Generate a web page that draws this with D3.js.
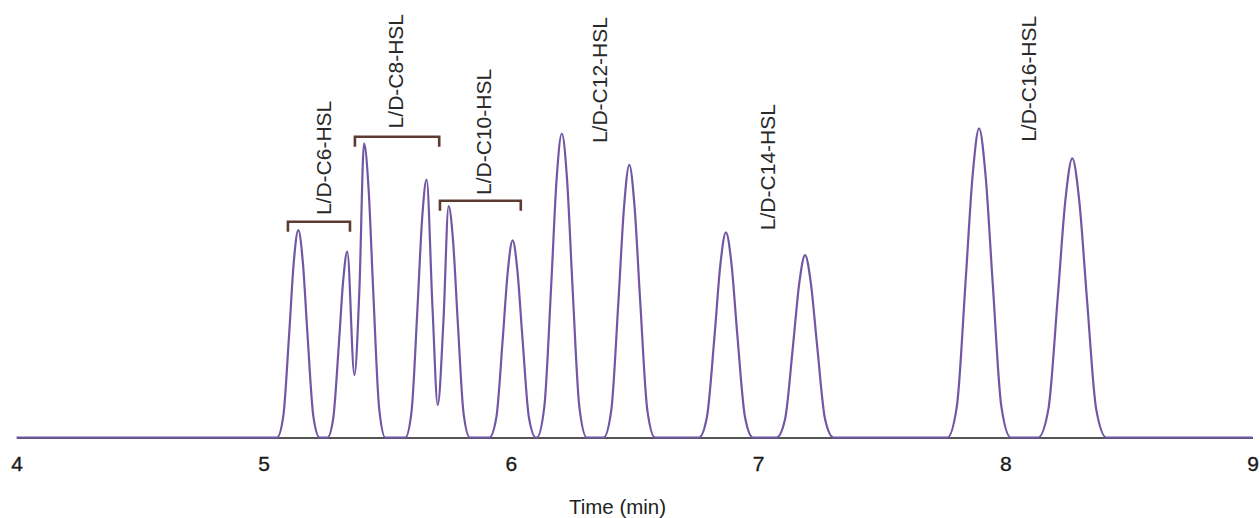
<!DOCTYPE html>
<html>
<head>
<meta charset="utf-8">
<script src="https://cdn.jsdelivr.net/npm/d3@7/dist/d3.min.js"></script>
<style>
  html, body { margin: 0; padding: 0; background: #fff; }
  svg { display: block; }
  text { font-family: "Liberation Sans", Arial, Helvetica, sans-serif; }
</style>
</head>
<body>
<svg id="chart" width="1260" height="518"></svg>
<script>
// Chromatogram trace: [retention time (min), relative signal]
const trace = [
  [4.000, 0], [5.000, 0],
  // L/D-C6-HSL
  [5.054, 0], [5.079, 6.5], [5.103, 32.4], [5.122, 55.1], [5.140, 64.8], [5.158, 55.1], [5.177, 32.4], [5.201, 6.5], [5.226, 0],
  [5.258, 0], [5.281, 5.8], [5.304, 29.1], [5.322, 49.4], [5.338, 58.1], [5.367, 19.5],
  // L/D-C8-HSL
  [5.387, 45.9], [5.406, 91.9], [5.424, 78.1], [5.443, 45.9], [5.467, 9.2], [5.492, 0],
  [5.573, 0], [5.598, 8.1], [5.622, 40.3], [5.641, 68.5], [5.659, 80.6], [5.683, 40.3], [5.704, 10.2],
  // L/D-C10-HSL
  [5.727, 36.2], [5.748, 72.3], [5.766, 61.5], [5.785, 36.2], [5.809, 7.2], [5.834, 0],
  [5.913, 0], [5.941, 6.2], [5.967, 30.8], [5.988, 52.4], [6.007, 61.6], [6.026, 52.4], [6.047, 30.8], [6.073, 6.2], [6.101, 0],
  // L/D-C12-HSL
  [6.105, 0], [6.135, 9.5], [6.163, 47.5], [6.185, 80.8], [6.206, 95.0], [6.227, 80.8], [6.249, 47.5], [6.277, 9.5], [6.307, 0],
  [6.375, 0], [6.406, 8.5], [6.435, 42.6], [6.458, 72.4], [6.479, 85.2], [6.500, 72.4], [6.523, 42.6], [6.552, 8.5], [6.583, 0],
  // L/D-C14-HSL
  [6.761, 0], [6.793, 6.4], [6.824, 32.0], [6.848, 54.5], [6.870, 64.1], [6.892, 54.5], [6.916, 32.0], [6.947, 6.4], [6.979, 0],
  [7.075, 0], [7.109, 5.7], [7.141, 28.5], [7.167, 48.5], [7.190, 57.0], [7.213, 48.5], [7.239, 28.5], [7.271, 5.7], [7.305, 0],
  // L/D-C16-HSL
  [7.766, 0], [7.804, 9.7], [7.839, 48.3], [7.868, 82.1], [7.894, 96.6], [7.920, 82.1], [7.949, 48.3], [7.984, 9.7], [8.022, 0],
  [8.133, 0], [8.174, 8.7], [8.212, 43.6], [8.243, 74.1], [8.271, 87.2], [8.299, 74.1], [8.330, 43.6], [8.368, 8.7], [8.409, 0],
  [9.000, 0]
];

// Analyte names and where each name sits: [time (min), signal at the text's start]
const analytes = ["L/D-C6-HSL", "L/D-C8-HSL", "L/D-C10-HSL", "L/D-C12-HSL", "L/D-C14-HSL", "L/D-C16-HSL"];
const analyteLabelAt = [[5.242, 69.5], [5.531, 96.6], [5.887, 75.8], [6.358, 92.0], [7.038, 64.8], [8.092, 92.4]];

// Brackets grouping the closely eluting pairs: [start (min), end (min), signal level]
const brackets = [[5.098, 5.349, 67.4], [5.369, 5.710, 94.0], [5.713, 6.040, 74.0]];

// Time axis
const timeDomain = [4, 9];
const timeTicks = [4, 5, 6, 7, 8, 9];
const axisTitle = "Time (min)";

const svg = d3.select("#chart");

const x = d3.scaleLinear().domain(timeDomain).range([16.5, 1252.5]);
const y = d3.scaleLinear().domain([0, 100]).range([437.5, 117.5]);

// x axis: plain baseline with numeric labels, no tick marks
const axis = svg.append("g")
  .attr("transform", `translate(0,${y(0)})`)
  .call(d3.axisBottom(x).tickValues(timeTicks).tickFormat(d3.format("d"))
    .tickSizeInner(0).tickSizeOuter(0).tickPadding(19));
axis.select(".domain").attr("stroke", "#555").attr("stroke-width", 2);
axis.selectAll(".tick text")
  .attr("font-size", 21)
  .attr("fill", "#1a1a1a")
  .attr("stroke", "#1a1a1a")
  .attr("stroke-width", 0.35)
  .style("font-family", '"Liberation Sans", Arial, sans-serif');

svg.append("text")
  .attr("x", 617.5)
  .attr("y", 514)
  .attr("text-anchor", "middle")
  .attr("font-size", 20.5)
  .attr("fill", "#222")
  .text(axisTitle);

// chromatogram trace
const line = d3.line()
  .x(d => x(d[0]))
  .y(d => y(d[1]))
  .curve(d3.curveMonotoneX);

svg.append("path")
  .datum(trace)
  .attr("d", line)
  .attr("fill", "none")
  .attr("stroke", "#7157a3")
  .attr("stroke-width", 2.2)
  .attr("stroke-linejoin", "round");

// brackets over the enantiomer pairs
const legLen = 10;
svg.append("g").selectAll("path")
  .data(brackets)
  .join("path")
  .attr("d", d => {
    const x0 = x(d[0]), x1 = x(d[1]), yy = y(d[2]);
    return `M${x0},${yy + legLen}V${yy}H${x1}V${yy + legLen}`;
  })
  .attr("fill", "none")
  .attr("stroke", "#5e3b31")
  .attr("stroke-width", 2.6);

// vertical analyte names
svg.append("g").selectAll("text")
  .data(analytes)
  .join("text")
  .attr("transform", (d, i) => `translate(${x(analyteLabelAt[i][0])},${y(analyteLabelAt[i][1])}) rotate(-90)`)
  .attr("dy", "0.36em")
  .attr("text-anchor", "start")
  .attr("font-size", 21)
  .attr("fill", "#2a2a2a")
  .text(d => d);
</script>
</body>
</html>
